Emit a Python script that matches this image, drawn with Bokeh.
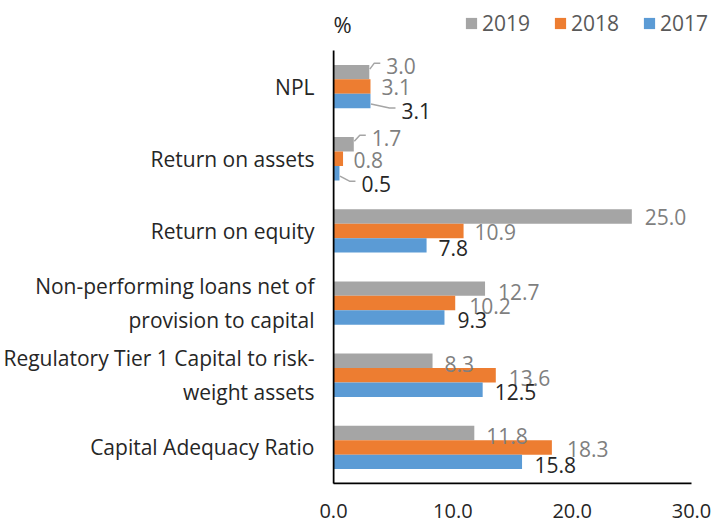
from bokeh.plotting import figure
from bokeh.models import (ColumnDataSource, Range1d, FixedTicker,
                          PrintfTickFormatter, Legend, LegendItem, Label)
from bokeh.core.properties import value
from bokeh.embed import file_html
from bokeh.resources import INLINE

# ---------------- data ----------------
categories = ["NPL", "Return on assets", "Return on equity",
              "Non-performing loans net of\nprovision to capital",
              "Regulatory Tier 1 Capital to risk-\nweight assets",
              "Capital Adequacy Ratio"]
years = ["2019", "2018", "2017"]
v2019 = [3.0, 1.7, 25.0, 12.7, 8.3, 11.8]
v2018 = [3.1, 0.8, 10.9, 10.2, 13.6, 18.3]
v2017 = [3.1, 0.5, 7.8, 9.3, 12.5, 15.8]
x_ticks = [0, 10, 20, 30]
unit_label = "%"

# ---------------- layout / style ----------------
LEFT = 330            # left border (category labels)
FRAME_W = 381         # frame width (room for the legend on the right)
AXIS_W = 358          # pixel length of the value axis 0..30
CAT_H = 433           # pixel height of the category block
TOP = 50              # space above the category block (unit + legend)
FRAME_H = TOP + CAT_H + 1
BOTTOM = 38
ncat = len(categories)
XMAX = x_ticks[-1]
PX_X = AXIS_W / XMAX
PX_Y = CAT_H / ncat

colors = {"2019": "#A5A5A5", "2018": "#ED7D31", "2017": "#5B9BD5"}
label_colors = {"2019": "#7F7F7F", "2018": "#7F7F7F", "2017": "#262626"}
dodges = {"2019": 0.2, "2018": 0.0, "2017": -0.2}
# label offsets in px (x right, y down)
lab_dx = {"2019": [17, 18, 13, 13, 12, 12],
          "2018": [11, 10.5, 11, 14, 13, 15],
          "2017": [31, 22, 12, 13, 12, 12.5]}
lab_dy = {"2019": [-6, -6, 1, 3, 3, 3],
          "2018": [0, 1, 1, 3, 3, 2],
          "2017": [10, 11, 2.5, 2, 2, 3]}
leaders = [("2019", 0), ("2017", 0), ("2019", 1), ("2017", 1)]

FONT = "Open Sans"
vals = {"2019": v2019, "2018": v2018, "2017": v2017}
cat_pos = [ncat - 1 - i + 0.5 for i in range(ncat)]

data = dict(cat=categories)
for y in years:
    data["v" + y] = vals[y]
    data["t" + y] = ["%.1f" % v for v in vals[y]]
    data["pos" + y] = [c + dodges[y] for c in cat_pos]
    data["dx" + y] = lab_dx[y]
    data["dy" + y] = lab_dy[y]
src = ColumnDataSource(data)

x0 = -1 / PX_X
y0 = -1 / PX_Y
p = figure(frame_width=FRAME_W, frame_height=FRAME_H,
           x_range=Range1d(x0, x0 + FRAME_W / PX_X),
           y_range=Range1d(y0, y0 + FRAME_H / PX_Y),
           output_backend="svg", toolbar_location=None,
           min_border_left=LEFT, min_border_right=0,
           min_border_top=0, min_border_bottom=BOTTOM)
p.outline_line_color = None
p.xgrid.visible = False
p.ygrid.visible = False

renderers = {}
for y in years:
    renderers[y] = p.hbar(y="pos" + y, right="v" + y, height=0.2, left=0,
                          source=src, fill_color=colors[y], line_color=None)

# leader lines for the small values
lx, ly = [], []
for y, i in leaders:
    v = vals[y][i]
    yc = cat_pos[i] + dodges[y]
    dx, dy = lab_dx[y][i], lab_dy[y][i]
    s = 3 if dy > 0 else -3
    pts = [(0.5, s), (dx - 12, dy - 3), (dx - 6, dy - 3)]
    lx.append([v + a / PX_X for a, b in pts])
    ly.append([yc - b / PX_Y for a, b in pts])
p.multi_line(xs=lx, ys=ly, line_color="#A5A5A5", line_width=1.5)

for y in years:
    p.text(x="v" + y, y="pos" + y, text="t" + y,
           x_offset="dx" + y, y_offset="dy" + y, source=src,
           text_font=value(FONT), text_font_size="21px",
           text_color=label_colors[y], text_align="left", text_baseline="middle")

# axis base lines: value axis from 0 to last tick, category axis over the categories
p.segment(x0=[0, 0], y0=[0, 0], x1=[XMAX, 0], y1=[0, ncat],
          line_color="black", line_width=2)

for ax in (p.xaxis[0], p.yaxis[0]):
    ax.axis_line_color = None
    ax.major_tick_line_color = None
    ax.minor_tick_line_color = None
    ax.major_tick_out = 0
    ax.major_tick_in = 0
    ax.minor_tick_out = 0
    ax.minor_tick_in = 0
    ax.major_label_text_font = FONT
    ax.major_label_text_color = "#262626"

p.xaxis.ticker = FixedTicker(ticks=x_ticks)
p.xaxis.formatter = PrintfTickFormatter(format="%.1f")
p.xaxis.major_label_text_font_size = "20px"
p.xaxis.major_label_standoff = 19

p.yaxis.ticker = FixedTicker(ticks=cat_pos)
p.yaxis.major_label_overrides = {c: name for c, name in zip(cat_pos, categories)}
p.yaxis.major_label_text_font_size = "21px"
p.yaxis.major_label_standoff = 18

legend = Legend(items=[LegendItem(label=y, renderers=[renderers[y]]) for y in years],
                orientation="horizontal", location=(132, FRAME_H - 23 - 14),
                glyph_width=14, glyph_height=14, label_standoff=4, spacing=23,
                padding=0, margin=0, border_line_color=None,
                background_fill_alpha=0, label_text_font=FONT,
                label_text_font_size="21px", label_text_color="#595959")
p.add_layout(legend)

p.add_layout(Label(x=0, y=ncat + (TOP - 23) / PX_Y, text=unit_label,
                   text_font=FONT, text_font_size="22px", text_color="#262626",
                   text_baseline="middle", text_align="left"))

open("out.html", "w").write(file_html(p, INLINE))
